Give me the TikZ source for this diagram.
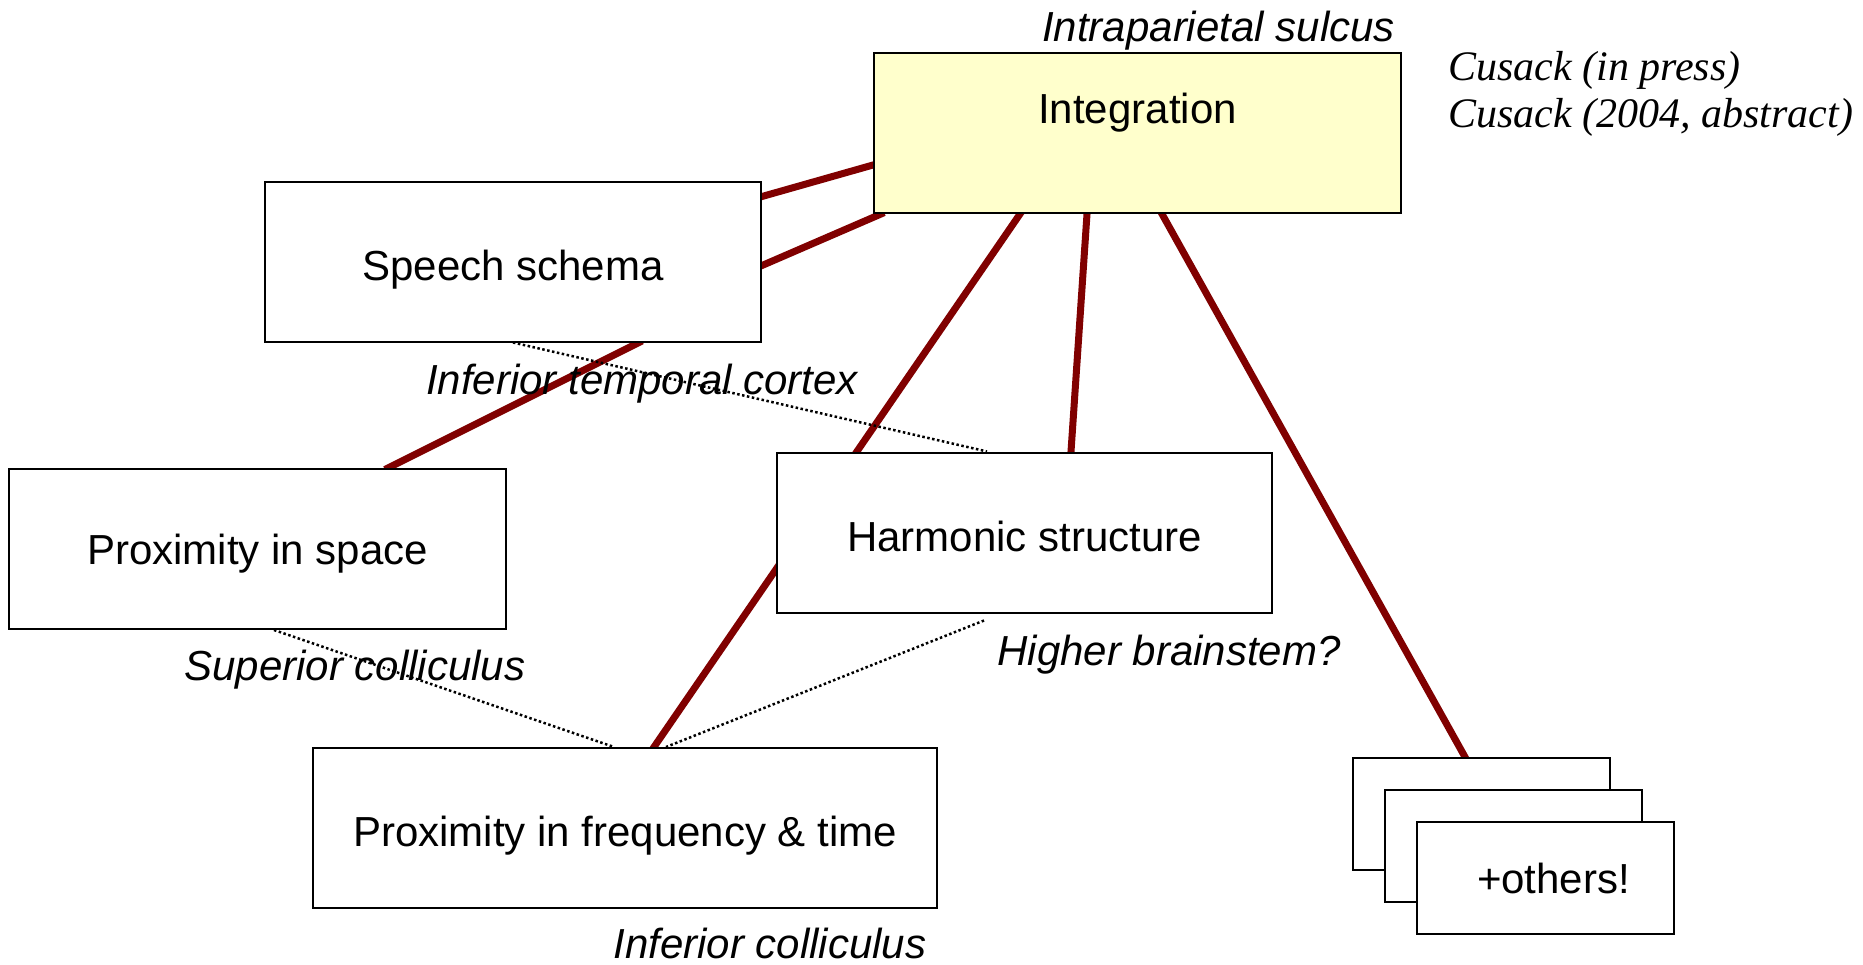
\documentclass[tikz,border=0pt]{standalone}
\usepackage{fontspec}
\setmainfont{Liberation Sans}
\newfontfamily\timesfont{Liberation Serif}
\usetikzlibrary{calc,backgrounds}
\definecolor{linkred}{HTML}{800000}
\definecolor{integfill}{HTML}{FFFFCC}
\begin{document}
\begin{tikzpicture}[x=1pt,y=-1pt,
  box/.style={draw=black, line width=2pt, fill=white, inner sep=0pt,
    minimum width=496pt, minimum height=160pt, text height=37pt, text depth=0pt,
    font=\fontsize{42}{50}\selectfont},
  obox/.style={box, minimum width=257pt, minimum height=112pt, text height=30pt},
  lab/.style={inner sep=0pt, anchor=base, font=\fontsize{42}{50}\selectfont\itshape},
  cite/.style={inner sep=0pt, anchor=base west, font=\timesfont\fontsize{42}{50}\selectfont\itshape},
  link/.style={draw=linkred, line width=7pt, line cap=rect},
  weak/.style={draw=black, line width=2.5pt, dash pattern=on 2.5pt off 2.5pt}]
\useasboundingbox (0,0) rectangle (1863,964);

% boxes
\node[box, fill=integfill, minimum width=527pt, text height=70pt, text depth=90pt] (integ) at (1137.5,133) {Integration};
\node[box] (speech) at (513,261.5) {Speech schema};
\node[box, minimum width=497pt, text height=30pt] (space) at (257.5,549) {Proximity in space};
\node[box, minimum width=495pt] (harm) at (1024.5,532.5) {Harmonic structure};
\node[box, minimum width=624pt] (freq) at (625,828) {Proximity in frequency \& time};
\node[obox] (oth1) at (1481.5,814) {};
\node[obox] (oth2) at (1513.5,846) {};
\node[obox] (oth3) at (1545.5,878) {\hspace*{16pt}+others!};

% labels
\node[lab] (itc) at (642,394) {Inferior temporal cortex};
\node[lab] (sc) at (355,680) {Superior colliculus};
\node[lab] (hb) at (1169,665) {Higher brainstem?};
\node[lab] (ic) at (770,958) {Inferior colliculus};
\node[lab] (ips) at (1218.5,41) {Intraparietal sulcus};
\node[cite] (c1) at (1448,80) {Cusack (in press)};
\node[cite] (c2) at (1448,127) {Cusack (2004, abstract)};

% connectors
\begin{scope}[on background layer]
\draw[link] ($(integ.north west)+(0,113)$) -- ($(speech.north east)+(0,16)$);
\draw[link] ($(integ.south west)+(8,0)$) -- ($(speech.north east)+(0,85)$);
\draw[link] ($(speech.south west)+(375,0)$) -- ($(space.north west)+(380,0)$);
\draw[link] ($(integ.south west)+(147,0)$) -- ($(freq.north west)+(342,0)$);
\draw[link] ($(integ.south west)+(214,0)$) -- ($(harm.north west)+(295,0)$);
\draw[link] ($(integ.south west)+(289,0)$) -- ($(oth1.north west)+(113,0)$);
\draw[weak] (speech.south) -- ($(harm.north west)+(211,0)$);
\draw[weak] ($(space.south west)+(266,0)$) -- ($(freq.north west)+(302,0)$);
\draw[weak] ($(harm.south west)+(208,7)$) -- ($(freq.north west)+(354,0)$);
\end{scope}
\end{tikzpicture}
\end{document}
